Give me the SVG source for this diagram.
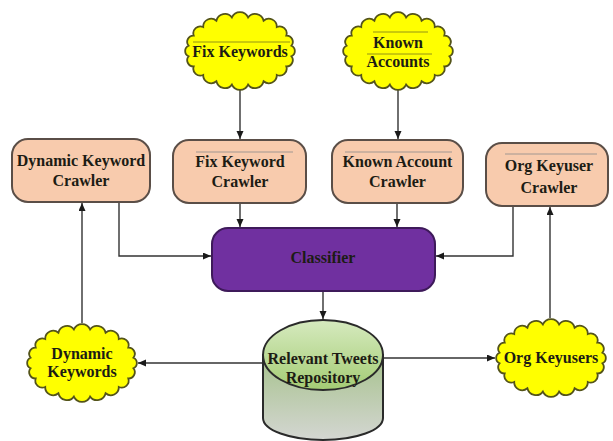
<svg xmlns="http://www.w3.org/2000/svg" width="613" height="441" viewBox="0 0 613 441">
<defs>
<style>
text{font-family:'Liberation Serif','DejaVu Serif',serif;font-weight:700;font-size:16px;fill:#1c1c14;text-anchor:middle}
.crawler{fill:#f8cbad;stroke:#5a4e47;stroke-width:2}
.cloud{fill:#ffff00;stroke:#54541a;stroke-width:1.8}
.conn{fill:none;stroke:#333;stroke-width:1.4}
.faint{stroke:#8c8c8c;stroke-width:0.8}
.faintc{stroke:#7a7a1a;stroke-width:0.8}
</style>
<marker id="arr" markerUnits="userSpaceOnUse" markerWidth="9" markerHeight="8" refX="8" refY="3.5" orient="auto">
<path d="M0,0 L8,3.5 L0,7 Z" fill="#1a1a1a"/>
</marker>
<path id="cloudShape" d="M4.6,35.7 A6.2,6.2 0 0 1 9.7,25.6 A7,7 0 0 1 19.2,17 A8,8 0 0 1 32.4,10.7 A8.7,8.7 0 0 1 47.9,7.4 A8.9,8.9 0 0 1 64.1,7.4 A8.7,8.7 0 0 1 79.6,10.7 A8,8 0 0 1 92.8,17 A7,7 0 0 1 102.3,25.6 A6.2,6.2 0 0 1 107.4,35.7 A5.8,5.8 0 0 1 107.4,46.3 A6.2,6.2 0 0 1 102.3,56.4 A7,7 0 0 1 92.8,65 A8,8 0 0 1 79.6,71.3 A8.7,8.7 0 0 1 64.1,74.6 A8.9,8.9 0 0 1 47.9,74.6 A8.7,8.7 0 0 1 32.4,71.3 A8,8 0 0 1 19.2,65 A7,7 0 0 1 9.7,56.4 A6.2,6.2 0 0 1 4.6,46.3 A5.8,5.8 0 0 1 4.6,35.7 Z"/>
<linearGradient id="cylBody" x1="0" y1="0" x2="0" y2="1">
<stop offset="0" stop-color="#a6c28c"/>
<stop offset="1" stop-color="#d4d6d2"/>
</linearGradient>
<linearGradient id="cylTop" x1="0" y1="0" x2="0" y2="1">
<stop offset="0" stop-color="#d6eabf"/>
<stop offset="1" stop-color="#a4cc74"/>
</linearGradient>
</defs>
<rect width="613" height="441" fill="#ffffff"/>

<g id="connectors">
<path class="conn" d="M240,90 L240,139" marker-end="url(#arr)"/>
<path class="conn" d="M398,90 L398,139" marker-end="url(#arr)"/>
<path class="conn" d="M240,203 L240,227" marker-end="url(#arr)"/>
<path class="conn" d="M397,203 L397,227" marker-end="url(#arr)"/>
<path class="conn" d="M119,202 L119,256 L211,256" marker-end="url(#arr)"/>
<path class="conn" d="M513,206 L513,256 L436,256" marker-end="url(#arr)"/>
<path class="conn" d="M323,291 L323,319" marker-end="url(#arr)"/>
<path class="conn" d="M82,323 L82,203" marker-end="url(#arr)"/>
<path class="conn" d="M550,318 L550,207" marker-end="url(#arr)"/>
<path class="conn" d="M263,363 L138,363" marker-end="url(#arr)"/>
<path class="conn" d="M383,358 L495,358" marker-end="url(#arr)"/>
</g>

<g id="fix-keywords">
<use href="#cloudShape" class="cloud" transform="translate(184,10)"/>
<line class="faintc" x1="193" y1="42" x2="290" y2="42"/>
<text x="240" y="57">Fix Keywords</text>
</g>

<g id="known-accounts">
<use href="#cloudShape" class="cloud" transform="translate(342,10)"/>
<line class="faintc" x1="373" y1="32" x2="428" y2="32"/>
<line class="faintc" x1="367" y1="54" x2="432" y2="54"/>
<text x="398" y="48">Known</text>
<text x="398" y="67">Accounts</text>
</g>

<g id="dynamic-keyword-crawler">
<rect class="crawler" x="12" y="139" width="138" height="63" rx="16"/>
<text x="81" y="166">Dynamic Keyword</text>
<text x="81" y="186">Crawler</text>
</g>

<g id="fix-keyword-crawler">
<rect class="crawler" x="173" y="140" width="133" height="63" rx="16"/>
<line class="faint" x1="196" y1="152" x2="293" y2="152"/>
<text x="240" y="167">Fix Keyword</text>
<text x="240" y="187">Crawler</text>
</g>

<g id="known-account-crawler">
<rect class="crawler" x="332" y="140" width="131" height="63" rx="16"/>
<line class="faint" x1="345" y1="152" x2="452" y2="152"/>
<text x="397.5" y="167">Known Account</text>
<text x="397.5" y="187">Crawler</text>
</g>

<g id="org-keyuser-crawler">
<rect class="crawler" x="486" y="143" width="122" height="63" rx="16"/>
<line class="faint" x1="505" y1="154" x2="597" y2="154"/>
<text x="549" y="171">Org Keyuser</text>
<text x="549" y="193">Crawler</text>
</g>

<g id="classifier">
<rect x="212" y="228" width="223" height="63" rx="16" fill="#7030a0" stroke="#3e1a5a" stroke-width="2"/>
<text x="323" y="263">Classifier</text>
</g>

<g id="repository">
<path d="M263,355 L263,418 A60,22 0 0 0 383,418 L383,355 Z" fill="url(#cylBody)" stroke="#2a2a2a" stroke-width="2"/>
<ellipse cx="323" cy="355" rx="60" ry="35" fill="url(#cylTop)" stroke="#2a2a2a" stroke-width="2"/>
<text x="323" y="364">Relevant Tweets</text>
<text x="323" y="383">Repository</text>
</g>

<g id="dynamic-keywords">
<use href="#cloudShape" class="cloud" transform="translate(26,322)"/>
<text x="82" y="359">Dynamic</text>
<text x="82" y="377">Keywords</text>
</g>

<g id="org-keyusers">
<use href="#cloudShape" class="cloud" transform="translate(495,317)"/>
<text x="551" y="363">Org Keyusers</text>
</g>
</svg>
